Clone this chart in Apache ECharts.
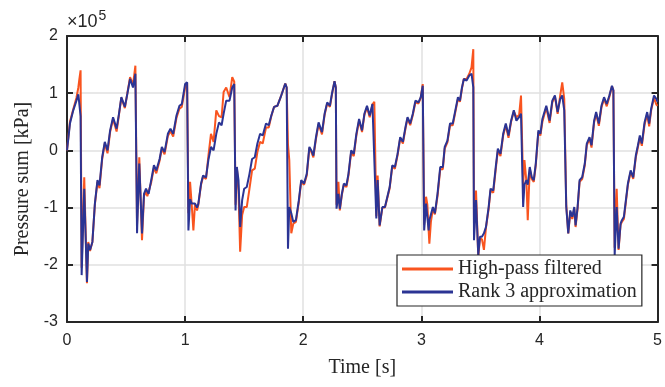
<!DOCTYPE html>
<html>
<head>
<meta charset="utf-8">
<script src="https://cdn.jsdelivr.net/npm/echarts@6/dist/echarts.min.js"></script>
<style>
html,body{margin:0;padding:0;background:#fff;}
#chart{width:665px;height:387px;}
</style>
</head>
<body>
<div id="chart"></div>
<script>
// Time [s]
const time = [
0.000,0.025,0.053,0.080,0.096,0.105,0.115,0.124,0.146,0.169,0.180,0.195,0.215,0.236,0.258,0.275,0.298,0.320,0.343,0.365,0.390,0.420,0.440,0.460,0.490,0.511,0.534,0.559,0.579,
0.593,0.612,0.635,0.652,0.669,0.680,0.691,0.713,0.736,0.756,0.784,0.803,0.826,0.854,0.876,0.899,0.927,0.952,0.972,1.000,1.017,
1.028,1.042,1.056,1.070,1.084,1.101,1.112,1.135,1.152,1.177,1.197,1.219,1.241,1.264,1.287,1.309,1.326,1.348,1.376,1.399,1.416,
1.427,1.438,1.452,1.466,1.483,1.500,1.522,1.545,1.567,1.590,1.612,1.635,1.657,1.685,1.708,1.730,1.753,1.781,1.809,1.848,1.860,
1.871,1.882,1.899,1.916,1.938,1.963,1.983,2.007,2.030,2.052,2.069,2.086,2.108,2.130,2.159,2.181,2.203,2.226,2.243,2.265,2.276,
2.282,2.298,2.310,2.327,2.344,2.366,2.383,2.406,2.428,2.450,2.473,2.498,2.518,2.540,2.563,2.586,2.602,
2.619,2.630,2.647,2.670,2.692,2.732,2.754,2.776,2.799,2.821,2.844,2.866,2.883,2.906,2.928,2.950,2.976,2.995,3.012,
3.024,3.040,3.051,3.062,3.068,3.081,3.098,3.115,3.137,3.160,3.182,3.198,3.221,3.243,3.266,3.288,3.310,3.327,3.344,3.360,3.383,3.406,3.425,3.440,
3.446,3.463,3.482,3.496,3.513,3.530,3.547,3.570,3.586,3.609,3.630,3.648,3.670,3.693,3.715,3.738,3.760,3.783,3.805,3.828,3.844,
3.862,3.873,3.890,3.901,3.918,3.935,3.952,3.969,3.991,4.008,4.025,4.058,4.086,4.109,4.131,4.154,4.176,4.193,4.210,
4.227,4.244,4.261,4.278,4.295,4.306,4.323,4.340,4.362,4.384,4.401,4.424,4.441,4.463,4.480,4.503,4.525,4.547,4.570,4.592,4.614,4.626,
4.637,4.654,4.670,4.687,4.698,4.715,4.732,4.749,4.772,4.794,4.816,4.834,4.850,4.867,4.890,4.912,4.929,4.946,4.970,4.990,5.000
];
// Rank 3 approximation (x1e5)
const rank3 = [
0.00,0.47,0.70,0.87,0.98,0.95,0.60,-2.18,-0.67,-2.30,-1.63,-1.74,-1.60,-0.93,-0.52,-0.61,-0.12,0.15,0.00,0.35,0.58,0.38,0.64,0.93,0.76,0.99,1.25,1.10,1.34,
-1.45,-0.23,-1.45,-0.76,-0.67,-0.72,-0.76,-0.52,-0.26,-0.35,-0.15,0.06,-0.03,0.29,0.38,0.29,0.61,0.78,0.81,1.16,1.19,
-1.40,-0.85,-0.93,-0.93,-0.93,-1.00,-0.93,-0.58,-0.44,-0.47,-0.17,0.06,0.00,0.29,0.49,0.44,0.64,0.87,0.87,1.10,1.16,
-1.05,-0.29,-0.52,-1.34,-0.87,-0.67,-0.64,-0.41,-0.15,-0.12,0.12,0.29,0.26,0.47,0.44,0.61,0.76,0.78,0.93,1.17,1.10,
-1.72,-0.99,-1.10,-1.25,-1.22,-0.87,-0.52,-0.58,-0.41,0.06,0.00,-0.09,0.23,0.49,0.32,0.64,0.84,0.78,0.99,1.21,1.10,
-1.02,-0.76,-1.02,-0.76,-0.58,-0.61,-0.41,0.00,-0.06,0.29,0.55,0.35,0.64,0.78,0.61,0.81,0.84,
-1.19,-0.52,-1.31,-0.99,-0.99,-0.64,-0.26,-0.29,-0.06,0.23,0.15,0.41,0.58,0.47,0.64,0.87,0.84,0.93,1.13,
-1.40,-0.93,-0.93,-1.40,-1.22,-1.22,-0.99,-1.10,-0.76,-0.29,-0.29,0.06,0.17,0.47,0.47,0.70,0.93,0.87,1.10,1.25,1.22,1.31,1.34,1.10,
-1.57,-0.87,-1.83,-1.51,-1.51,-1.45,-1.34,-0.99,-0.67,-0.70,-0.29,0.03,-0.06,0.29,0.47,0.26,0.52,0.70,0.52,0.58,0.64,
-0.99,-0.60,-0.52,-0.60,-0.29,-0.47,-0.52,-0.23,0.35,0.29,0.55,0.78,0.52,0.87,0.96,0.67,0.90,0.96,0.70,
-0.99,-1.45,-1.05,-1.16,-0.99,-1.31,-0.99,-0.52,-0.47,-0.23,0.12,0.23,0.09,0.52,0.67,0.47,0.78,0.93,0.81,0.96,1.13,1.05,
-1.83,-0.99,-1.72,-1.28,-1.22,-1.16,-0.87,-0.58,-0.35,-0.47,-0.09,0.09,0.26,0.12,0.49,0.67,0.47,0.73,0.96,0.90,0.85
];
// High-pass filtered (x1e5)
const highPass = [
0.00,0.50,0.72,0.92,1.10,1.25,1.40,-2.05,-0.47,-2.32,-1.60,-1.76,-1.60,-0.95,-0.55,-0.66,-0.15,0.12,-0.05,0.32,0.55,0.33,0.62,0.92,0.74,1.00,1.28,1.15,1.48,
-1.30,-0.12,-1.57,-0.80,-0.72,-0.80,-0.78,-0.56,-0.30,-0.40,-0.18,0.03,-0.07,0.25,0.34,0.24,0.57,0.73,0.76,1.10,1.18,
-1.10,-0.55,-0.95,-1.40,-0.93,-1.05,-0.95,-0.60,-0.46,-0.50,-0.10,0.29,0.15,0.70,0.60,0.58,1.02,1.10,0.93,1.28,1.20,
-0.95,-0.29,-0.70,-1.77,-1.13,-0.99,-0.99,-0.67,-0.35,-0.32,-0.03,0.15,0.12,0.40,0.40,0.60,0.76,0.78,0.93,1.17,1.10,
0.10,-0.17,-1.45,-1.28,-1.25,-0.90,-0.55,-0.60,-0.44,0.04,-0.03,-0.12,0.20,0.46,0.28,0.62,0.82,0.76,0.97,1.21,1.10,
-0.95,-0.55,-1.05,-0.78,-0.60,-0.64,-0.44,-0.03,-0.10,0.26,0.52,0.32,0.62,0.75,0.58,0.80,0.85,
-1.15,-0.44,-1.33,-1.00,-1.00,-0.66,-0.28,-0.32,-0.08,0.21,0.12,0.38,0.56,0.44,0.62,0.84,0.82,0.92,1.16,
-1.30,-0.81,-0.95,-1.40,-1.63,-1.25,-1.02,-1.12,-0.80,-0.33,-0.33,0.03,0.14,0.44,0.44,0.67,0.90,0.85,1.08,1.25,1.25,1.34,1.45,1.77,
-1.40,-0.70,-1.85,-1.55,-1.55,-1.74,-1.36,-1.02,-0.70,-0.74,-0.33,0.00,-0.10,0.26,0.44,0.22,0.50,0.68,0.58,0.62,0.96,
-0.60,-0.17,-0.55,-1.22,-0.32,-0.50,-0.55,-0.26,0.32,0.26,0.50,0.75,0.48,0.84,0.95,0.64,0.96,1.19,0.90,
-0.95,-1.45,-1.08,-1.20,-1.02,-1.34,-1.02,-0.55,-0.50,-0.26,0.09,0.20,0.05,0.49,0.64,0.43,0.75,0.90,0.77,0.94,1.12,1.05,
-1.70,-0.67,-1.74,-1.30,-1.25,-1.20,-0.90,-0.60,-0.38,-0.50,-0.12,0.06,0.22,0.08,0.45,0.63,0.42,0.70,0.92,0.80,0.78
];
const xTicks = [0,1,2,3,4,5];
const yTicks = [-3,-2,-1,0,1,2];
const seriesNames = ['High-pass filtered','Rank 3 approximation'];

const dark = '#262626';
const orange = '#F9541F';
const blue = '#2B3494';
const chart = echarts.init(document.getElementById('chart'), null, {renderer:'canvas'});

const axisCommon = {
  axisLine:{show:true,onZero:false,lineStyle:{color:dark,width:2}},
  axisTick:{show:true,inside:true,length:6,lineStyle:{color:dark,width:2}},
};
chart.setOption({
  animation:false,
  backgroundColor:'#fff',
  grid:{left:67,right:4,top:36,bottom:65,containLabel:false},
  legend:{
    orient:'vertical',left:397,top:255,
    data:seriesNames,
    icon:'rect',itemWidth:51,itemHeight:3,itemGap:3,
    padding:[4,5,4,5],
    backgroundColor:'#fff',borderColor:dark,borderWidth:1.2,borderRadius:0,
    textStyle:{fontFamily:'Liberation Serif',fontSize:20,color:dark,lineHeight:20}
  },
  graphic:[{
    type:'text',left:67,top:9,
    style:{text:'×10{s|5}',
      rich:{s:{fontSize:14,verticalAlign:'top',padding:[0,0,12,1],fontFamily:'Liberation Sans',fill:dark}},
      font:'18px "Liberation Sans"',fill:dark}
  }],
  xAxis:[
    Object.assign({type:'value',min:0,max:5,interval:1,position:'bottom',
      name:'Time [s]',nameLocation:'middle',nameGap:36,
      nameTextStyle:{fontFamily:'Liberation Serif',fontSize:20,color:dark},
      axisLabel:{fontFamily:'Liberation Sans',fontSize:16,color:dark,margin:11},
      splitLine:{show:true,lineStyle:{color:'#e1e1e1',width:1.5}}},axisCommon),
    Object.assign({type:'value',min:0,max:5,interval:1,position:'top',
      axisLabel:{show:false},splitLine:{show:false}},axisCommon)
  ],
  yAxis:[
    Object.assign({type:'value',min:-3,max:2,interval:1,position:'left',
      name:'Pressure sum [kPa]',nameLocation:'middle',nameGap:33,nameRotate:90,
      nameTextStyle:{fontFamily:'Liberation Serif',fontSize:20,color:dark},
      axisLabel:{fontFamily:'Liberation Sans',fontSize:16,color:dark,margin:9},
      splitLine:{show:true,lineStyle:{color:'#e1e1e1',width:1.5}}},axisCommon),
    Object.assign({type:'value',min:-3,max:2,interval:1,position:'right',
      axisLabel:{show:false},splitLine:{show:false}},axisCommon)
  ],
  series:[
    {name:seriesNames[0],type:'line',showSymbol:false,symbol:'none',
     data:time.map((t,i)=>[t,highPass[i]]),
     lineStyle:{color:orange,width:2},itemStyle:{color:orange},z:2},
    {name:seriesNames[1],type:'line',showSymbol:false,symbol:'none',
     data:time.map((t,i)=>[t,rank3[i]]),
     lineStyle:{color:blue,width:2},itemStyle:{color:blue},z:3}
  ]
});
</script>
</body>
</html>
